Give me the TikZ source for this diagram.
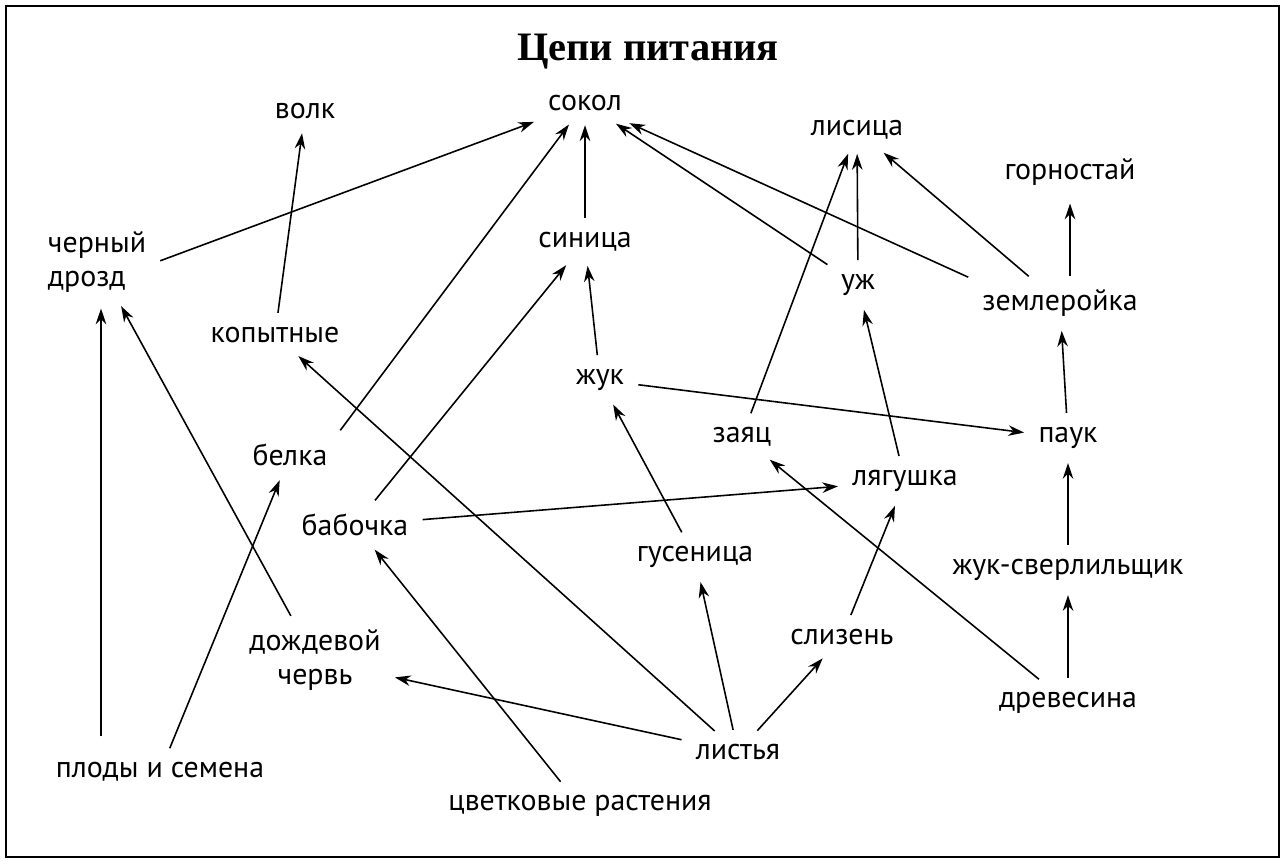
\documentclass[tikz,border=0pt]{standalone}
\usepackage{fontspec}
\setmainfont{PT Sans}
\newfontfamily\titlefont{Liberation Serif}
\usetikzlibrary{arrows.meta}
\begin{document}
\begin{tikzpicture}[x=0.02cm,y=-0.02cm,
  lbl/.style={font=\fontsize{17}{19}\selectfont,inner sep=6pt,align=center},
  arr/.style={-{Stealth[length=9pt,width=6pt]},line width=0.9pt,shorten >=2pt,shorten <=2pt}]
\useasboundingbox (0,0) rectangle (1284,868);
\draw[line width=1.2pt] (6,6) rectangle (1279,857);
\node[font=\titlefont\bfseries\fontsize{23}{26}\selectfont] (t) at (648,52) {Цепи питания};
\node[lbl] (sokol) at (585,103) {сокол};
\node[lbl] (volk) at (305,111) {волк};
\node[lbl] (lis) at (857,130) {лисица};
\node[lbl] (gorn) at (1070,172) {горностай};
\node[lbl,align=left] (drozd) at (97,262) {черный\\дрозд};
\node[lbl] (sin) at (585,242) {синица};
\node[lbl] (uzh) at (858,285) {уж};
\node[lbl] (zeml) at (1060,303) {землеройка};
\node[lbl] (kop) at (275,335) {копытные};
\node[lbl] (zhuk) at (600,380) {жук};
\node[lbl] (zayac) at (742,437) {заяц};
\node[lbl] (pauk) at (1068,438) {паук};
\node[lbl] (belka) at (290,455) {белка};
\node[lbl] (lyag) at (905,481) {лягушка};
\node[lbl] (bab) at (355,525) {бабочка};
\node[lbl] (gus) at (695,557) {гусеница};
\node[lbl] (sverl) at (1068,570) {жук-сверлильщик};
\node[lbl] (sliz) at (842,637) {слизень};
\node[lbl] (cherv) at (315,660) {дождевой\\червь};
\node[lbl] (drev) at (1068,703) {древесина};
\node[lbl] (list) at (738,752) {листья};
\node[lbl] (plody) at (160,772) {плоды и семена};
\node[lbl] (cvet) at (580,806) {цветковые растения};
\coordinate (p1) at (101,740);
\coordinate (d1) at (101,305);
\coordinate (z1) at (1070,280);
\coordinate (g1) at (1070,200);
\draw[arr] (drozd.east) -- (sokol);
\draw[arr] (belka.north east) -- (sokol);
\draw[arr] (sin) -- (sokol);
\draw[arr] (uzh) -- (sokol);
\draw[arr] (zeml.north west) -- (sokol);
\draw[arr] (kop) -- (volk);
\draw[arr] (zayac) -- (lis);
\draw[arr] (uzh) -- (lis);
\draw[arr] (zeml) -- (lis);
\draw[arr] (pauk) -- (zeml);
\draw[arr] (z1) -- (g1);
\draw[arr] (zhuk) -- (sin);
\draw[arr] (bab) -- (sin);
\draw[arr] (zhuk) -- (pauk);
\draw[arr] (sverl) -- (pauk);
\draw[arr] (drev) -- (sverl);
\draw[arr] (gus) -- (zhuk);
\draw[arr] (lyag) -- (uzh);
\draw[arr] (bab) -- (lyag);
\draw[arr] (sliz) -- (lyag);
\draw[arr] (list) -- (sliz);
\draw[arr] (list) -- (gus);
\draw[arr] (list) -- (kop);
\draw[arr] (list) -- (cherv);
\draw[arr] (drev) -- (zayac);
\draw[arr] (cvet) -- (bab);
\draw[arr] (plody) -- (belka);
\draw[arr] (p1) -- (d1);
\draw[arr] (cherv) -- (drozd);
\end{tikzpicture}
\end{document}
